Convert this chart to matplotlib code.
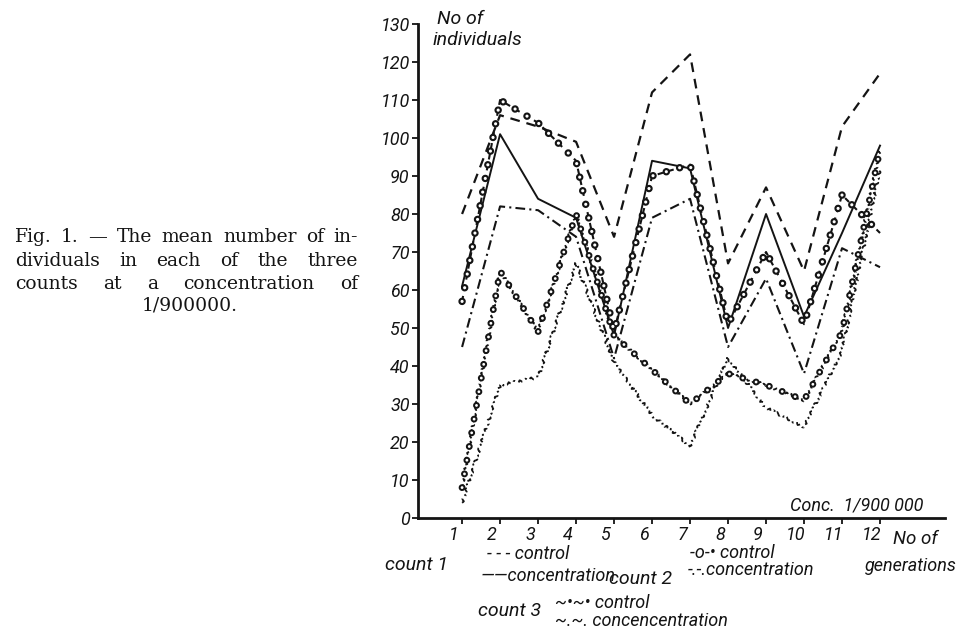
import matplotlib
matplotlib.use('Agg')
import matplotlib.pyplot as plt
import matplotlib.transforms as mtransforms

plt.rcParams['lines.scale_dashes'] = False

# ---------------- data ----------------
generations = [1, 2, 3, 4, 5, 6, 7, 8, 9, 10, 11, 12]
count1_control = [80, 106, 103, 99, 74, 112, 122, 67, 87, 65, 103, 117]
count1_conc = [61, 101, 84, 79, 48, 94, 92, 50, 80, 53, 75, 98]
count2_control = [57, 110, 104, 94, 49, 90, 93, 51, 70, 51, 85, 75]
count2_conc = [45, 82, 81, 74, 42, 79, 84, 45, 63, 38, 71, 66]
count3_control = [8, 65, 49, 80, 48, 39, 30, 38, 35, 31, 49, 97]
count3_conc = [4, 35, 37, 67, 41, 27, 19, 42, 29, 24, 44, 92]
y_ticks = [0, 10, 20, 30, 40, 50, 60, 70, 80, 90, 100, 110, 120, 130]
y_tick_labels = ['0', '10', '20', '30', '40', '50', '60', '70', '80', '90',
                 '100', '110', '120', '130']
x_tick_labels = [str(g) for g in generations]

W, H = 962, 631
ink = '#141414'
fig = plt.figure(figsize=(W / 100, H / 100), dpi=100)
fig.patch.set_facecolor('white')


def fx(px):
    return px / W


def fy(py):
    return 1 - py / H


ax = fig.add_axes([fx(418), fy(518), fx(945) - fx(418), fy(24) - fy(518)])
ax.set_xlim(-0.16, 13.71)
ax.set_ylim(0, 130)
for s in ['top', 'right']:
    ax.spines[s].set_visible(False)
for s in ['left', 'bottom']:
    ax.spines[s].set_linewidth(2.0)
    ax.spines[s].set_color(ink)

hand = ['Roboto', 'DejaVu Sans']
lab_font = dict(family=hand, style='italic', size=13, color=ink)
ax.set_yticks(y_ticks)
ax.set_yticklabels(y_tick_labels, **lab_font)
ax.set_xticks(generations)
ax.set_xticklabels(x_tick_labels, **lab_font)
ax.tick_params(axis='both', direction='out', length=4, width=1.3, color=ink, pad=2)
ax.tick_params(axis='x', length=4, pad=1.5)
shift = mtransforms.ScaledTranslation(-8 / 100, 0, fig.dpi_scale_trans)
for lbl in ax.get_xticklabels():
    lbl.set_transform(lbl.get_transform() + shift)


def rings(x, y, outer, inner, spacing, z=3):
    ax.plot(x, y, color=ink, lw=outer, dashes=(0.01, spacing),
            dash_capstyle='round', zorder=z)
    ax.plot(x, y, color='white', lw=inner, dashes=(0.01, spacing),
            dash_capstyle='round', zorder=z + 0.1)


# ---------------- lines ----------------
ax.plot(generations, count1_control, color=ink, lw=1.6, dashes=(7, 5))
ax.plot(generations, count1_conc, color=ink, lw=1.4)
ax.plot(generations, count2_control, color=ink, lw=1.5, dashes=(4, 4))
rings(generations, count2_control, 5.4, 2.3, 10)
ax.plot(generations, count2_conc, color=ink, lw=1.5, dashes=(7, 3, 1.5, 3))
l5, = ax.plot(generations, count3_control, color=ink, lw=1.3, dashes=(3, 3))
l5.set_sketch_params(scale=1.3, length=5, randomness=2)
rings(generations, count3_control, 5.0, 2.1, 10)
l6, = ax.plot(generations, count3_conc, color=ink, lw=1.3, dashes=(4, 3, 1.5, 3))
l6.set_sketch_params(scale=1.3, length=5, randomness=2)

# ---------------- texts ----------------
it = dict(family=hand, style='italic', color=ink)
fs = 13
fig.text(fx(437), fy(19), 'No of', size=14, va='center', ha='left', **it)
fig.text(fx(433), fy(40), 'individuals', size=14, va='center', ha='left', **it)
fig.text(fx(790), fy(505), 'Conc.  1/900 000', size=13, va='center', ha='left', **it)
fig.text(fx(893), fy(539), 'No of', size=13.5, va='center', ha='left', **it)
fig.text(fx(957), fy(566), 'generations', size=13, va='center', ha='right', **it)

fig.text(fx(385), fy(565), 'count 1', size=14, va='center', ha='left', **it)
fig.text(fx(487), fy(554), '- - - control', size=fs, va='center', ha='left', **it)
fig.text(fx(481), fy(576), '\u2014\u2014concentration', size=fs, va='center', ha='left', **it)
fig.text(fx(609), fy(579), 'count 2', size=14, va='center', ha='left', **it)
fig.text(fx(690), fy(553), '-o-\u2022 control', size=fs, va='center', ha='left', **it)
fig.text(fx(688), fy(570), '-.-.concentration', size=fs, va='center', ha='left', **it)
fig.text(fx(478), fy(611), 'count 3', size=14, va='center', ha='left', **it)
fig.text(fx(555), fy(603), '~\u2022~\u2022 control', size=fs, va='center', ha='left', **it)
fig.text(fx(555), fy(621), '~.~. concencentration', size=fs, va='center', ha='left', **it)

# ---------------- caption (justified) ----------------
cap = dict(family='DejaVu Serif', size=13.5, color=ink, va='center', ha='left')
caption_lines = [
    ("Fig. 1. \u2014 The mean number of in-", 237),
    ("dividuals in each of the three", 261),
    ("counts at a concentration of", 284),
]
renderer = fig.canvas.get_renderer()
for line, ypx in caption_lines:
    words = line.split(' ')
    txts = [fig.text(0, fy(ypx), w, **cap) for w in words]
    widths = [t.get_window_extent(renderer).width for t in txts]
    x0, x1 = 15, 358
    gap = (x1 - x0 - sum(widths)) / (len(words) - 1)
    x = x0
    for t, w in zip(txts, widths):
        t.set_x(fx(x))
        x += w + gap
fig.text(fx(190), fy(306), '1/900000.', ha='center', va='center',
         family='DejaVu Serif', size=13.5, color=ink)

fig.savefig('out.png', dpi=100)
